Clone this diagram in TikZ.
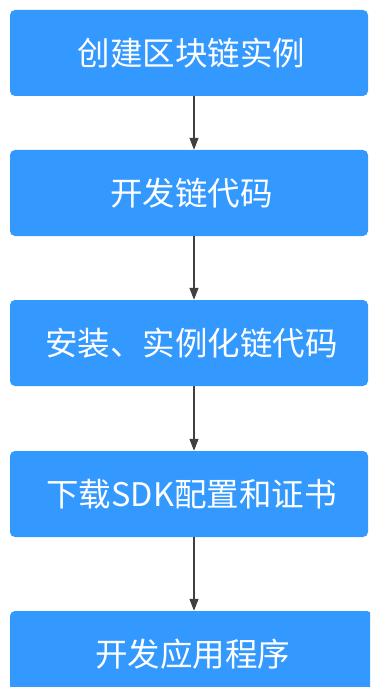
\documentclass[tikz,border=0pt]{standalone}
\usepackage{fontspec}
\newfontfamily\cjk{Noto Sans CJK SC}
\usetikzlibrary{arrows.meta}
\definecolor{boxblue}{HTML}{3399FF}
\definecolor{arrowgray}{HTML}{404040}
\tikzset{
  stepbox/.style={rectangle, rounded corners=5pt, fill=boxblue, draw=none,
    text=white, minimum width=358pt, minimum height=86pt, inner sep=0pt,
    font=\cjk\fontsize{32.5pt}{38pt}\selectfont},
  flowarrow/.style={draw=arrowgray, line width=1.2pt,
    -{Triangle[length=12pt,width=9pt]}}
}
\begin{document}
\begin{tikzpicture}[x=1pt,y=-1pt]
\useasboundingbox (0,0) rectangle (370,687);
\clip (0,0) rectangle (370,687);
\node[stepbox] (b1) at (189,53) {\hspace{5pt}创建区块链实例};
\node[stepbox] (b2) at (189,193) {\hspace{5pt}开发链代码};
\node[stepbox] (b3) at (189,343) {\hspace{5pt}安装、实例化链代码};
\node[stepbox] (b4) at (189,494) {\hspace{5pt}下载SDK配置和证书};
\node[stepbox, minimum width=362pt] (b5) at (191,654) {\hspace{3pt}开发应用程序};
\draw[flowarrow] ([xshift=5pt]b1.south) -- ([xshift=5pt]b2.north);
\draw[flowarrow] ([xshift=5pt]b2.south) -- ([xshift=5pt]b3.north);
\draw[flowarrow] ([xshift=5pt]b3.south) -- ([xshift=5pt]b4.north);
\draw[flowarrow] ([xshift=5pt]b4.south) -- ([xshift=3pt]b5.north);
\end{tikzpicture}
\end{document}
